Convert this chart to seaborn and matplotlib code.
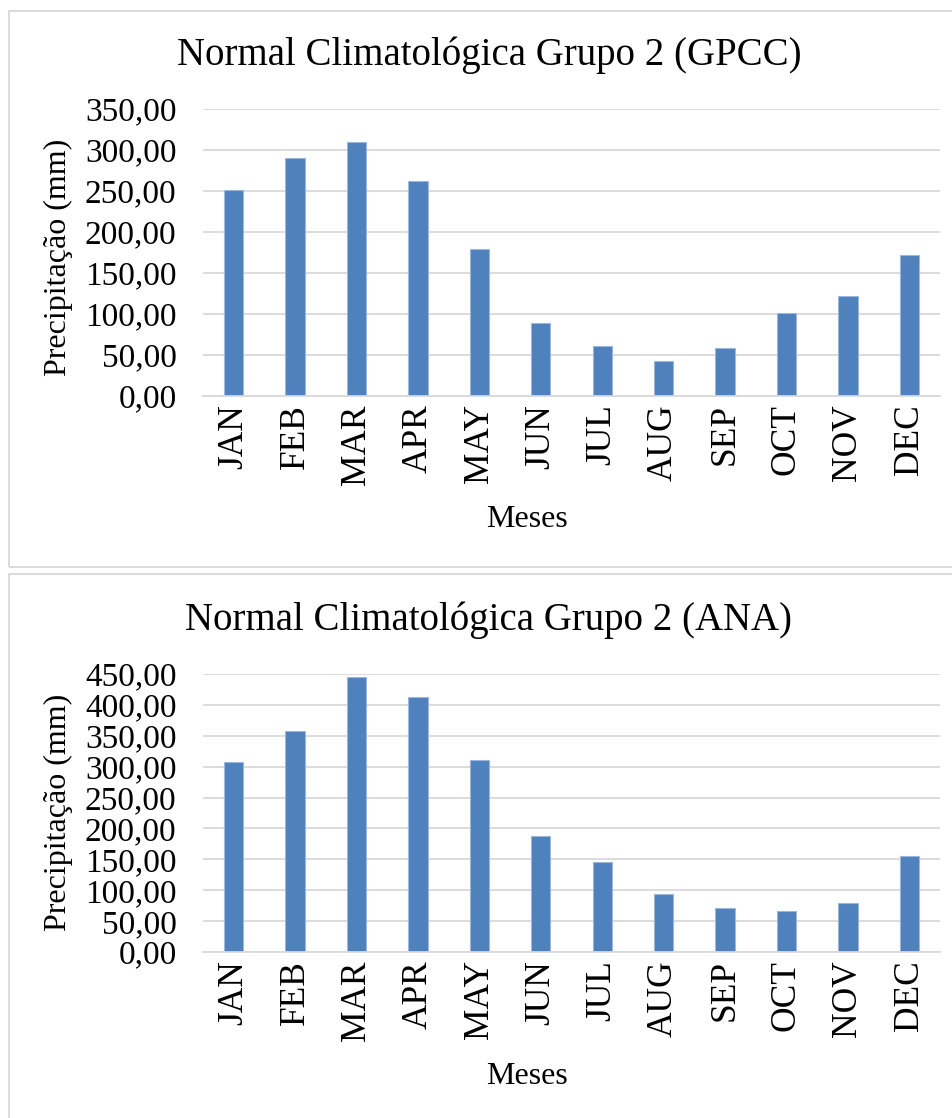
import matplotlib
matplotlib.use("Agg")
import matplotlib.pyplot as plt
import seaborn as sns
import pandas as pd
from matplotlib.patches import Rectangle
from matplotlib.ticker import FuncFormatter, MultipleLocator

# Monthly climatological normals (mm)
months = ["JAN", "FEB", "MAR", "APR", "MAY", "JUN", "JUL", "AUG", "SEP", "OCT", "NOV", "DEC"]
gpcc_mm = [251.0, 290.5, 309.5, 262.5, 179.5, 88.5, 61.5, 43.0, 58.5, 101.5, 122.0, 172.5]
ana_mm = [308.0, 357.0, 444.5, 412.5, 311.5, 187.0, 146.0, 94.5, 71.5, 67.0, 79.0, 156.0]

sns.set_theme(style="white")
plt.rcParams["font.family"] = ["Liberation Serif", "DejaVu Serif"]
plt.rcParams["text.color"] = "black"

W, H = 953, 1118
fig = plt.figure(figsize=(W / 100, H / 100), dpi=100)

BAR = "#4F81BD"
GRID = "#D9D9D9"


def px_axes(x0, y0, x1, y1):
    return fig.add_axes([x0 / W, 1 - y1 / H, (x1 - x0) / W, (y1 - y0) / H])


def comma_fmt(v, _):
    return f"{v:.2f}".replace(".", ",")


def panel(box, axbox, title, title_y, values, ymax, ylabel_y, xlabel_y):
    bx0, by0, bx1, by1 = box
    fig.add_artist(Rectangle((bx0 / W, 1 - by1 / H), (bx1 - bx0) / W, (by1 - by0) / H,
                             transform=fig.transFigure, fill=False,
                             edgecolor="#D9D9D9", linewidth=1.3))
    ax = px_axes(*axbox)
    df = pd.DataFrame({"mes": months, "mm": values})
    sns.barplot(data=df, x="mes", y="mm", order=months, color=BAR, width=0.315,
                edgecolor="#9DB7DA", linewidth=0.8, saturation=1, ax=ax)
    ax.set_xlim(-0.5, len(months) - 0.5)
    ax.set_ylim(0, ymax)
    ax.yaxis.set_major_locator(MultipleLocator(50))
    ax.yaxis.set_major_formatter(FuncFormatter(comma_fmt))
    ax.grid(axis="y", color=GRID, linewidth=1.3)
    ax.set_axisbelow(True)
    for s in ("top", "right", "left"):
        ax.spines[s].set_visible(False)
    ax.spines["bottom"].set_color(GRID)
    ax.spines["bottom"].set_linewidth(1.3)
    ax.tick_params(axis="y", length=0, pad=19, labelsize=24, labelcolor="black")
    ax.tick_params(axis="x", length=0, pad=6, labelsize=25.5, labelrotation=90, labelcolor="black")
    ax.set_xlabel("")
    ax.set_ylabel("")
    fig.text(489 / W, 1 - title_y / H, title, ha="center", va="center", fontsize=28,
             color="black")
    fig.text(58 / W, 1 - ylabel_y / H, "Precipitação (mm)", ha="center", va="center",
             rotation=90, fontsize=23, color="black")
    fig.text(527 / W, 1 - xlabel_y / H, "Meses", ha="center", va="center", fontsize=23,
             color="black")
    return ax


panel((9, 11, 965, 567), (203, 109, 940, 396),
      "Normal Climatológica Grupo 2 (GPCC)", 55, gpcc_mm, 350, 257, 520)
panel((9, 574, 965, 1130), (203, 674, 940, 952),
      "Normal Climatológica Grupo 2 (ANA)", 620, ana_mm, 450, 812, 1077)

fig.savefig("out.png", dpi=100, facecolor="white")
